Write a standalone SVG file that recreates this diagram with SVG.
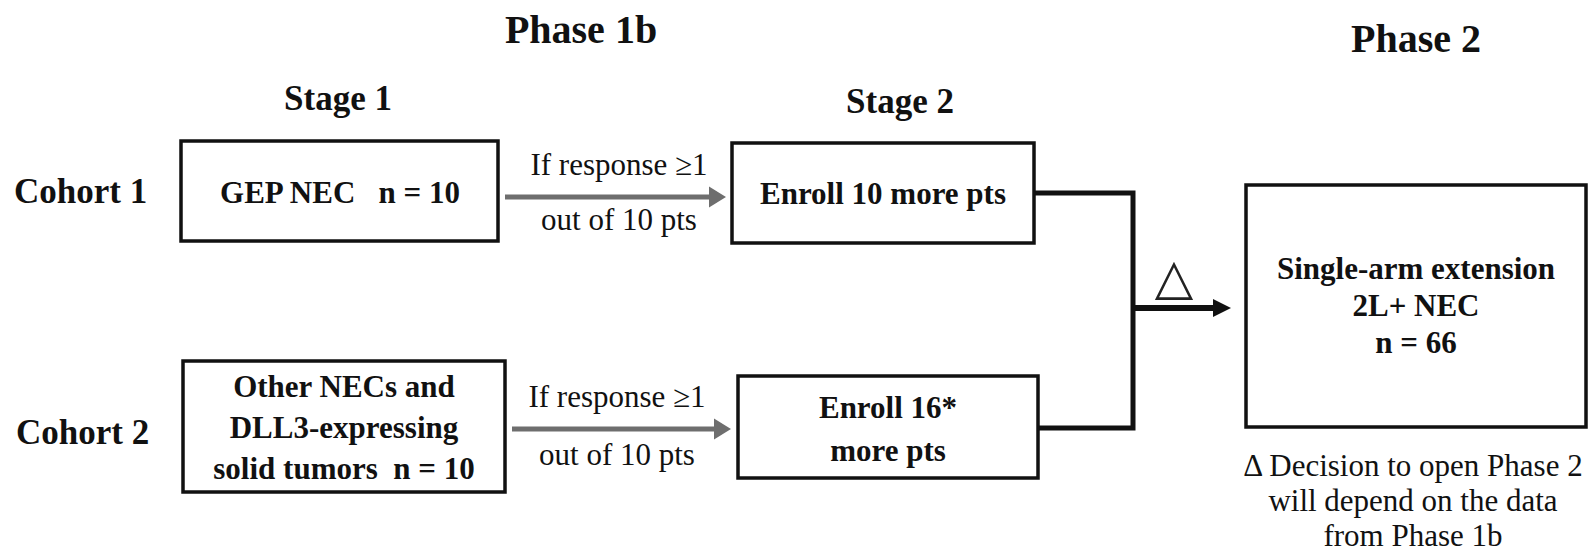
<svg xmlns="http://www.w3.org/2000/svg" width="1589" height="551" viewBox="0 0 1589 551">
<style>
.t{font-family:"Liberation Serif","Times New Roman",serif;fill:#111}
.b{font-weight:bold}
.title{font-size:40px}
.hdr{font-size:35px}
.bx{font-size:31px}
.lb{font-size:31px}
.box{fill:#fff;stroke:#111;stroke-width:3.5}
.gray{stroke:#6e6e6e;stroke-width:5;fill:none}
.blk{stroke:#111;fill:none;stroke-linejoin:miter}
</style>
<defs>
<marker id="ag" markerUnits="userSpaceOnUse" markerWidth="17" markerHeight="21" refX="0" refY="10.5" orient="auto" overflow="visible">
<path d="M0,0 L17,10.5 L0,21 Z" fill="#6e6e6e"/>
</marker>
<marker id="ab" markerUnits="userSpaceOnUse" markerWidth="19" markerHeight="20" refX="0" refY="10" orient="auto" overflow="visible">
<path d="M0,1 L18,10 L0,19 Z" fill="#111"/>
</marker>
</defs>
<rect width="1589" height="551" fill="#fff"/>
<g id="headers">
<text class="t b title" x="581" y="43" text-anchor="middle">Phase 1b</text>
<text class="t b title" x="1416" y="52" text-anchor="middle">Phase 2</text>
<text class="t b hdr" x="338" y="110" text-anchor="middle">Stage 1</text>
<text class="t b hdr" x="900" y="113" text-anchor="middle">Stage 2</text>
<text class="t b hdr" x="14" y="203">Cohort 1</text>
<text class="t b hdr" x="16" y="444">Cohort 2</text>
</g>
<g id="connectors">
<line class="gray" x1="505" y1="197" x2="709" y2="197" marker-end="url(#ag)"/>
<line class="gray" x1="512" y1="429" x2="714" y2="429" marker-end="url(#ag)"/>
<path class="blk" d="M1034,193 H1133 V428 H1038" stroke-width="5"/>
<line class="blk" x1="1133" y1="308" x2="1213" y2="308" stroke-width="6" marker-end="url(#ab)"/>
<text x="1174" y="294" text-anchor="middle" style="font-family:'DejaVu Sans',sans-serif;font-size:50px;fill:#222">△</text>
<text class="t lb" x="619" y="175" text-anchor="middle">If response ≥1</text>
<text class="t lb" x="619" y="230" text-anchor="middle">out of 10 pts</text>
<text class="t lb" x="617" y="407" text-anchor="middle">If response ≥1</text>
<text class="t lb" x="617" y="465" text-anchor="middle">out of 10 pts</text>
</g>
<g id="cohort1-stage1">
<rect class="box" x="181" y="141" width="317" height="100"/>
<text class="t b bx" x="340" y="203" text-anchor="middle" xml:space="preserve">GEP NEC   n = 10</text>
</g>
<g id="cohort1-stage2">
<rect class="box" x="732" y="143" width="302" height="100"/>
<text class="t b bx" x="883" y="204" text-anchor="middle">Enroll 10 more pts</text>
</g>
<g id="cohort2-stage1">
<rect class="box" x="183" y="361" width="322" height="131"/>
<text class="t b bx" x="344" y="397" text-anchor="middle">Other NECs and</text>
<text class="t b bx" x="344" y="438" text-anchor="middle">DLL3-expressing</text>
<text class="t b bx" x="344" y="479" text-anchor="middle" xml:space="preserve">solid tumors  n = 10</text>
</g>
<g id="cohort2-stage2">
<rect class="box" x="738" y="376" width="300" height="102"/>
<text class="t b bx" x="888" y="418" text-anchor="middle">Enroll 16*</text>
<text class="t b bx" x="888" y="461" text-anchor="middle">more pts</text>
</g>
<g id="phase2">
<rect class="box" x="1246" y="185" width="340" height="242"/>
<text class="t b bx" x="1416" y="279" text-anchor="middle">Single-arm extension</text>
<text class="t b bx" x="1416" y="316" text-anchor="middle">2L+ NEC</text>
<text class="t b bx" x="1416" y="353" text-anchor="middle">n = 66</text>
</g>
<g id="note">
<text class="t lb" x="1413" y="476" text-anchor="middle">Δ Decision to open Phase 2</text>
<text class="t lb" x="1413" y="511" text-anchor="middle">will depend on the data</text>
<text class="t lb" x="1413" y="546" text-anchor="middle">from Phase 1b</text>
</g>
</svg>
